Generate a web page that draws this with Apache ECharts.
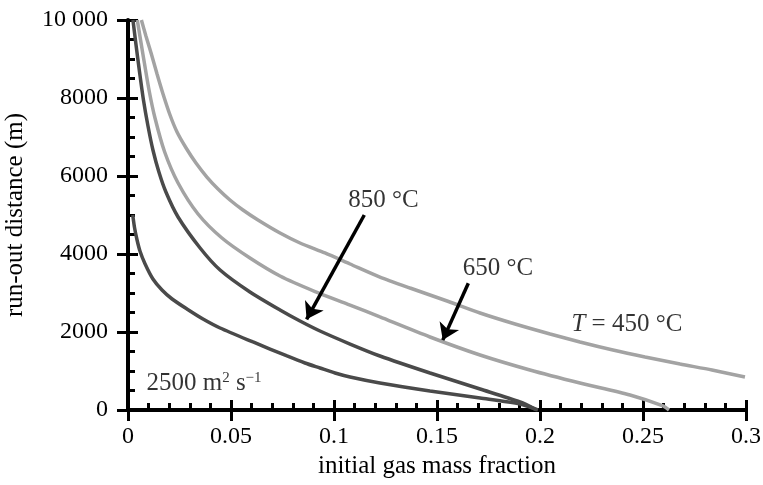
<!DOCTYPE html>
<html>
<head>
<meta charset="utf-8">
<script src="https://cdn.jsdelivr.net/npm/echarts@6/dist/echarts.min.js"></script>
<style>
  html, body { margin: 0; padding: 0; background: #fff; }
  #chart { width: 763px; height: 485px; }
</style>
</head>
<body>
<div id="chart"></div>
<script>
// curves: [gas fraction, run-out distance (m)]
var t450 = [[0.0065,10000],[0.0087,9590],[0.0112,9154],[0.0141,8615],[0.0170,8103],[0.0204,7564],
  [0.0238,7128],[0.0282,6718],[0.0330,6333],[0.0383,5974],[0.0437,5667],[0.0495,5385],[0.0558,5128],
  [0.0631,4872],[0.0738,4538],[0.0835,4282],[0.0956,4026],[0.1078,3744],[0.1223,3410],[0.1369,3128],
  [0.1549,2795],[0.1709,2487],[0.1879,2205],[0.2049,1949],[0.2194,1744],[0.2354,1538],[0.2510,1359],
  [0.2680,1179],[0.2835,1026],[0.2995,846]];
var t650 = [[0.0045,10000],[0.0073,9103],[0.0102,8205],[0.0131,7487],[0.0178,6615],[0.0243,5821],
  [0.0340,5026],[0.0456,4410],[0.0592,3897],[0.0738,3436],[0.0908,3038],[0.1078,2692],[0.1223,2385],
  [0.1466,1872],[0.1709,1410],[0.1951,1026],[0.2194,692],[0.2437,385],[0.2597,103],[0.2626,0]];
var t850 = [[0.0024,10000],[0.0039,9359],[0.0056,8667],[0.0075,7949],[0.0097,7282],[0.0121,6667],
  [0.0150,6103],[0.0184,5590],[0.0243,4949],[0.0350,4154],[0.0447,3590],[0.0592,3026],[0.0738,2564],
  [0.0835,2282],[0.0932,2026],[0.1078,1692],[0.1223,1385],[0.1466,949],[0.1709,538],[0.1903,205],
  [0.1985,0]];
var d2500 = [[0.0023,5000],[0.0032,4667],[0.0044,4359],[0.0058,4077],[0.0083,3744],[0.0121,3359],
  [0.0165,3077],[0.0214,2846],[0.0286,2590],[0.0364,2333],[0.0447,2103],[0.0607,1744],[0.0772,1385],
  [0.0859,1205],[0.0932,1077],[0.1005,949],[0.1078,846],[0.1223,692],[0.1466,487],[0.1709,308],
  [0.1903,154],[0.1990,0]];

var xTickLabels = ['0', '0.05', '0.1', '0.15', '0.2', '0.25', '0.3'];
var yTickLabels = ['0', '2000', '4000', '6000', '8000', '10 000'];

// annotations (data coordinates)
var noteText = ['850 °C', '650 °C', '{i|T} = 450 °C', '2500 m{s|2} s{s|\u22121}'];
var noteX = [0.1240, 0.1796, 0.2422, 0.0369];
var noteY = [5385, 3641, 2205, 690];
var arrowFrom = [[0.1147, 5000], [0.1652, 3249]];
var arrowTo = [[0.0867, 2326], [0.1528, 1792]];

var FONT = "'Liberation Serif', 'Times New Roman', serif";
var LIGHT = '#a3a3a3';
var DARK = '#4a4a4a';

var myChart = echarts.init(document.getElementById('chart'), null, {renderer: 'canvas'});

function curve(name, data, color) {
  return {
    name: name,
    type: 'line',
    data: data,
    showSymbol: false,
    smooth: 0.25,
    lineStyle: {color: color, width: 3.5},
    silent: true
  };
}

var notes = [];
for (var i = 0; i < noteText.length; i++) {
  notes.push([noteX[i], noteY[i], noteText[i]]);
}
var arrows = [];
for (var j = 0; j < arrowFrom.length; j++) {
  arrows.push([{coord: arrowFrom[j]}, {coord: arrowTo[j]}]);
}

var axisCommonX = {type: 'value', min: 0, max: 0.3, interval: 0.05, position: 'bottom',
  splitLine: {show: false}};
var axisCommonY = {type: 'value', min: 0, max: 10000, interval: 2000, position: 'left',
  splitLine: {show: false}};

option = {
  animation: false,
  backgroundColor: '#fff',
  grid: {left: 128, right: 17, top: 20, bottom: 75, containLabel: false, outerBoundsMode: 'none'},
  xAxis: [
    Object.assign({}, axisCommonX, {
      name: 'initial gas mass fraction',
      nameLocation: 'middle',
      nameGap: 42,
      nameTextStyle: {fontFamily: FONT, fontSize: 25, color: '#000'},
      axisLine: {show: true, onZero: false, lineStyle: {color: '#000', width: 4}},
      axisTick: {show: true, inside: false, length: 11, lineStyle: {color: '#000', width: 3}},
      axisLabel: {
        fontFamily: FONT, fontSize: 24, color: '#000', margin: 15,
        formatter: function (v) { return xTickLabels[Math.round(v / 0.05)]; }
      }
    }),
    Object.assign({}, axisCommonX, {
      axisLine: {show: false},
      axisLabel: {show: false},
      axisTick: {show: true, inside: true, length: 10, lineStyle: {color: '#000', width: 3}},
      minorTick: {show: true, splitNumber: 5, length: 7, lineStyle: {color: '#000', width: 3}}
    })
  ],
  yAxis: [
    Object.assign({}, axisCommonY, {
      name: 'run-out distance (m)',
      nameLocation: 'middle',
      nameGap: 100,
      nameTextStyle: {fontFamily: FONT, fontSize: 25, color: '#000'},
      axisLine: {show: true, onZero: false, lineStyle: {color: '#000', width: 4}},
      axisTick: {show: true, inside: false, length: 11, lineStyle: {color: '#000', width: 3}},
      axisLabel: {
        fontFamily: FONT, fontSize: 24, color: '#000', margin: 20,
        formatter: function (v) { return yTickLabels[Math.round(v / 2000)]; }
      }
    }),
    Object.assign({}, axisCommonY, {
      axisLine: {show: false},
      axisLabel: {show: false},
      axisTick: {show: true, inside: true, length: 10, lineStyle: {color: '#000', width: 3}},
      minorTick: {show: true, splitNumber: 4, length: 7, lineStyle: {color: '#000', width: 3}}
    })
  ],
  series: [
    curve('450', t450, LIGHT),
    curve('650', t650, LIGHT),
    Object.assign(curve('850', t850, DARK), {
      markLine: {
        silent: true,
        symbol: ['none', 'arrow'],
        symbolSize: 16,
        label: {show: false},
        lineStyle: {color: '#000', width: 3.5, type: 'solid'},
        data: arrows
      }
    }),
    curve('2500', d2500, DARK),
    {
      name: 'notes',
      type: 'scatter',
      data: notes,
      symbolSize: 0,
      silent: true,
      label: {
        show: true,
        position: 'inside',
        fontFamily: FONT,
        fontSize: 25,
        color: '#000',
        formatter: function (p) { return p.data[2]; },
        rich: {
          i: {fontFamily: FONT, fontSize: 25, fontStyle: 'italic', color: '#000'},
          s: {fontFamily: FONT, fontSize: 15, color: '#000', verticalAlign: 'top', lineHeight: 15}
        }
      }
    }
  ]
};

myChart.setOption(option);
</script>
</body>
</html>
